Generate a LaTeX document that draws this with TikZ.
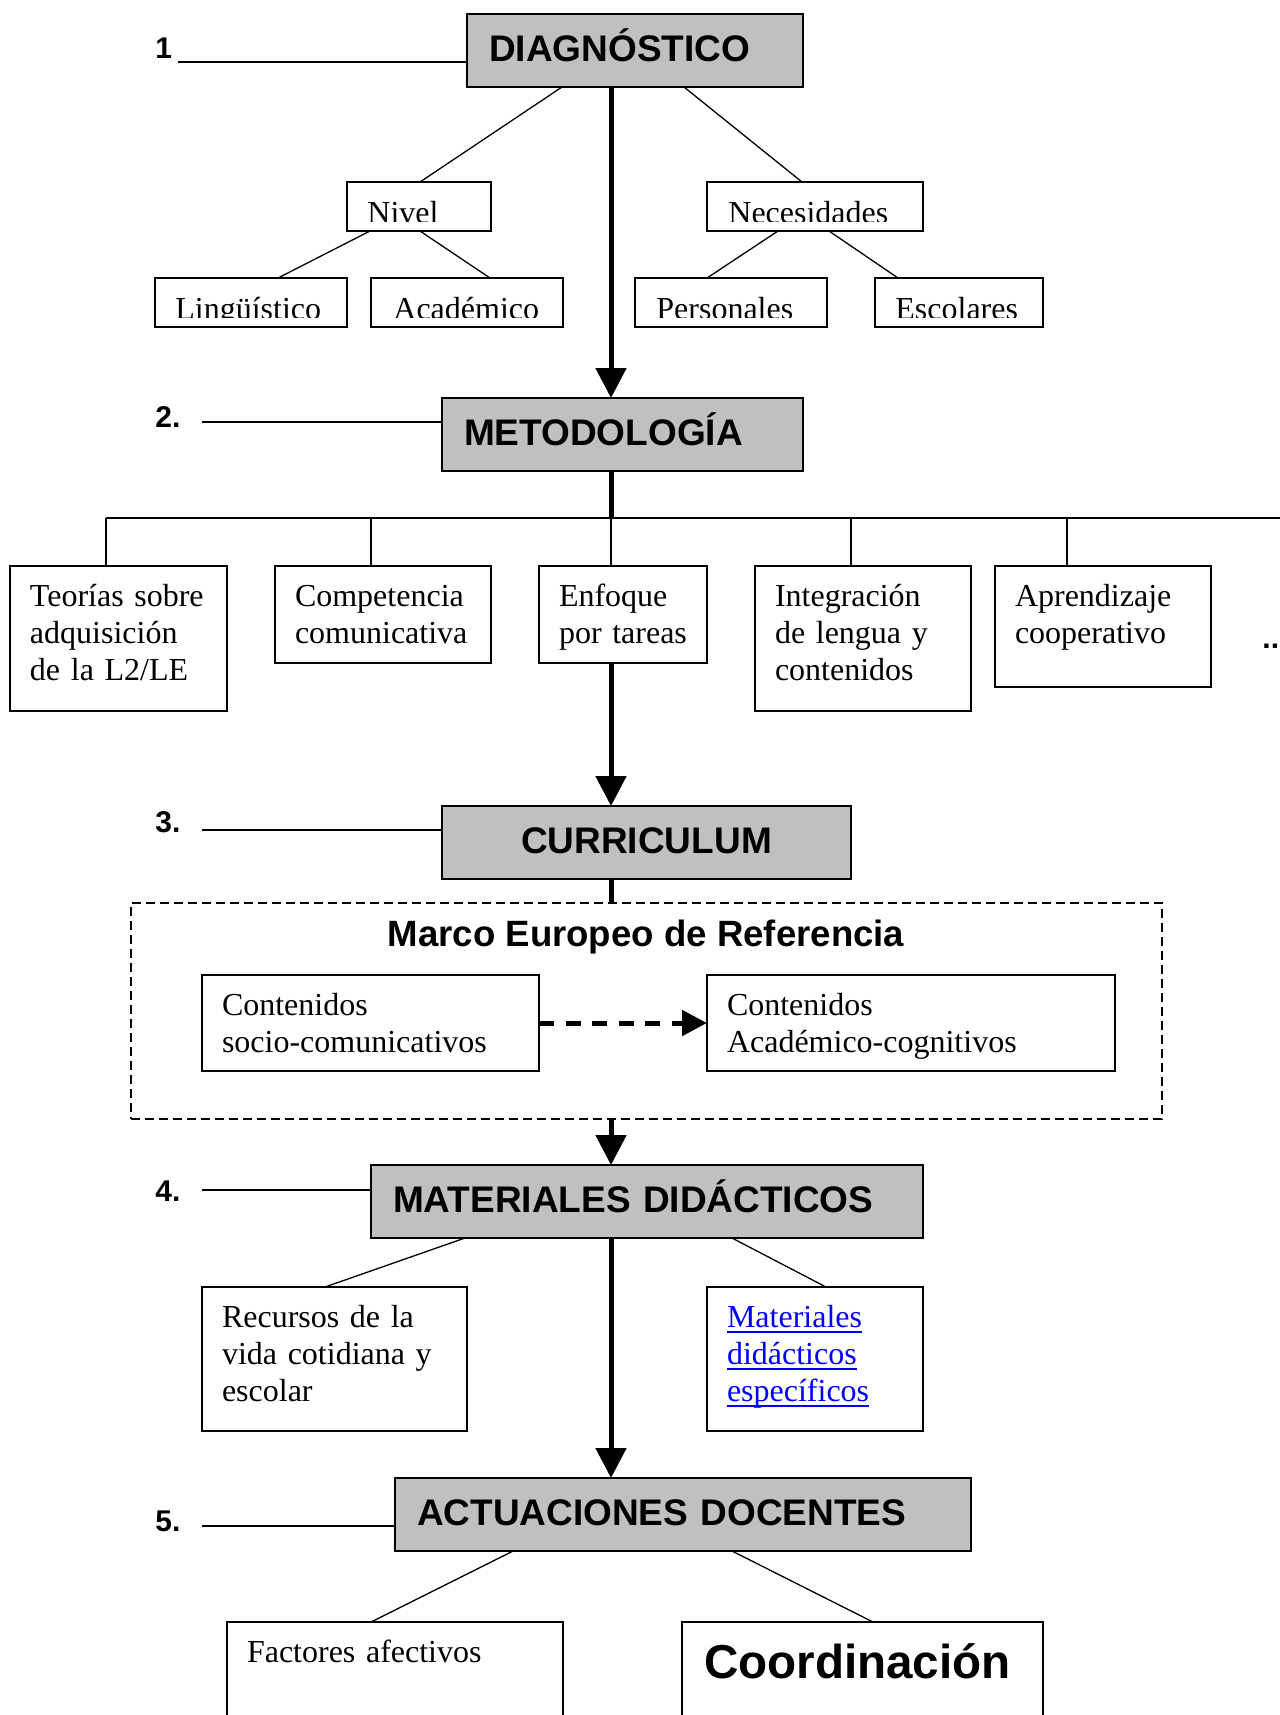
\documentclass[tikz,border=0pt]{standalone}
\usepackage{fontspec}
\setmainfont{Liberation Serif}
\newfontfamily\arialfont{Liberation Sans}
\usetikzlibrary{arrows.meta, calc}
\definecolor{boxgray}{RGB}{192,192,192}
\definecolor{linkblue}{RGB}{0,0,255}
\newsavebox{\enlacebox}
\newcommand{\enlace}[1]{\leavevmode\sbox\enlacebox{#1}\rlap{\rule[-2.75pt]{\wd\enlacebox}{1pt}}\usebox\enlacebox}

\begin{document}
\begin{tikzpicture}[
    x=0.5pt, y=-0.5pt,
    % 节点样式
    headbox/.style={draw, line width=0.8pt, fill=boxgray, anchor=base west, align=left,
        inner xsep=11pt, inner ysep=0pt, outer sep=0pt, text height=23.5pt, text depth=13pt,
        font=\arialfont\bfseries\fontsize{18.5pt}{21pt}\selectfont},
    txtbox/.style={draw, line width=0.8pt, anchor=base west, align=left,
        inner xsep=10pt, inner ysep=0pt, outer sep=0pt, text height=20pt,
        font=\fontsize{16pt}{18.5pt}\selectfont},
    smallbox/.style={draw, line width=0.8pt, anchor=north west, inner sep=0pt, outer sep=0pt, minimum height=24.5pt},
    smalltext/.style={anchor=base west, inner sep=0pt, font=\fontsize{16pt}{18.5pt}\selectfont},
    numlabel/.style={anchor=base west, inner sep=0pt, font=\arialfont\bfseries\fontsize{15pt}{18pt}\selectfont},
    dashframe/.style={draw, line width=0.65pt, dash pattern=on 4.5pt off 2.5pt, anchor=north west,
        inner sep=0pt, outer sep=0pt},
    % 连线样式
    thinline/.style={line width=0.65pt},
    bigline/.style={line width=2.5pt},
    bigarrow/.style={line width=2.5pt, -{Triangle[length=15pt, width=15pt]}},
    dasharrow/.style={line width=2.5pt, dash pattern=on 7.5pt off 5.8pt, -{Triangle[length=12.5pt, width=12.5pt]}}
]
    \path[use as bounding box, fill=white] (0,0) rectangle (1280,1715);
    \coordinate (spine) at (611,0);

    % 1. 诊断
    \node[headbox, text width=146pt] (diag) at (467,61) {DIAGNÓSTICO};
    \node[numlabel] (n1) at (155,58) {1};
    \coordinate (l1) at (178,62);
    \draw[thinline] (l1) -- (diag.west |- l1);

    \node[smallbox, minimum width=72pt] (nivel) at (347,182) {};
    \node[smallbox, minimum width=108pt] (neces) at (707,182) {};
    \node[smallbox, minimum width=96pt] (ling) at (155,278) {};
    \node[smallbox, minimum width=96pt] (acad) at (371,278) {};
    \node[smallbox, minimum width=96pt] (pers) at (635,278) {};
    \node[smallbox, minimum width=84pt] (esc) at (875,278) {};

    % 文字被框底裁掉
    \begin{scope}
        \clip (nivel.north west) rectangle ([yshift=5pt]nivel.south east)
              (neces.north west) rectangle ([yshift=5pt]neces.south east)
              (ling.north west) rectangle ([yshift=5pt]ling.south east)
              (acad.north west) rectangle ([yshift=5pt]acad.south east)
              (pers.north west) rectangle ([yshift=5pt]pers.south east)
              (esc.north west) rectangle ([yshift=5pt]esc.south east);
        \node[smalltext] (nivelT) at ([shift={(20,41)}]nivel.north west) {Nivel};
        \node[smalltext] (necesT) at ([shift={(21,41)}]neces.north west) {Necesidades};
        \node[smalltext] (lingT) at ([shift={(20,41)}]ling.north west) {Lingüístico};
        \node[smalltext] (acadT) at ([shift={(22,41)}]acad.north west) {Académico};
        \node[smalltext] (persT) at ([shift={(21,41)}]pers.north west) {Personales};
        \node[smalltext] (escT) at ([shift={(20,41)}]esc.north west) {Escolares};
    \end{scope}

    \draw[thinline] (diag.south -| 562,0) -- (nivel.north -| 420,0);
    \draw[thinline] (diag.south -| 684,0) -- (neces.north -| 802,0);
    \draw[thinline] (nivel.south -| 370,0) -- (ling.north -| 278,0);
    \draw[thinline] (nivel.south -| 420,0) -- (acad.north -| 490,0);
    \draw[thinline] (neces.south -| 778,0) -- (pers.north -| 707,0);
    \draw[thinline] (neces.south -| 829,0) -- (esc.north -| 898,0);

    % 2. 方法
    \node[headbox, text width=158.5pt] (metodo) at (442,445) {METODOLOGÍA};
    \node[numlabel] (n2) at (155,427) {2.};
    \coordinate (l2) at (202,422);
    \draw[thinline] (l2) -- (metodo.west |- l2);
    \draw[bigarrow] (diag.south -| spine) -- (metodo.north -| spine);

    \coordinate (barL) at (106,518);
    \coordinate (barR) at (1290,518);
    \draw[bigline] (metodo.south -| spine) -- (barL -| spine);
    \draw[thinline] (barL) -- (barR);

    \node[txtbox, text width=88.5pt, text depth=52.5pt] (teorias) at (10,606) {Teorías sobre\\ adquisición\\ de la L2/LE};
    \node[txtbox, text width=88pt, text depth=28.5pt] (compet) at (275,606) {Competencia\\ comunicativa};
    \node[txtbox, text width=64pt, text depth=28.5pt] (enfoque) at (539,606) {Enfoque\\ por tareas};
    \node[txtbox, text width=88pt, text depth=52.5pt] (integra) at (755,606) {Integración\\ de lengua y\\ contenidos};
    \node[txtbox, text width=88pt, text depth=40.5pt] (aprend) at (995,606) {Aprendizaje\\ cooperativo};
    \node[numlabel] (dots) at (1262,648) {...};

    \foreach \nodo/\xx in {teorias/106, compet/371, enfoque/611, integra/851, aprend/1067}
        \draw[thinline] (barL -| \xx,0) -- (\nodo.north -| \xx,0);

    % 3. 课程
    \node[headbox, align=center, text width=182.5pt] (curric) at (442,853) {CURRICULUM};
    \node[numlabel] (n3) at (155,832) {3.};
    \coordinate (l3) at (202,830);
    \draw[thinline] (l3) -- (curric.west |- l3);
    \draw[bigarrow] (enfoque.south -| spine) -- (curric.north -| spine);

    \node[dashframe, minimum width=515.5pt, minimum height=108pt] (marcobox) at (131,903) {};
    \node[anchor=base, inner sep=0pt, font=\arialfont\bfseries\fontsize{18.3pt}{21pt}\selectfont] (marco) at (646,946) {Marco Europeo de Referencia};
    \draw[bigline] (curric.south -| spine) -- (marcobox.north -| spine);

    \node[txtbox, text width=148.5pt, text depth=28pt] (socio) at (202,1015) {Contenidos\\ socio-comunicativos};
    \node[txtbox, text width=184pt, text depth=28pt] (acadcog) at (707,1015) {Contenidos\\ Académico-cognitivos};
    \draw[dasharrow] (socio.east) -- (acadcog.west);

    % 4. 教材
    \node[headbox, text width=254pt] (mater) at (371,1212) {MATERIALES DIDÁCTICOS};
    \node[numlabel] (n4) at (155,1201) {4.};
    \coordinate (l4) at (202,1190);
    \draw[thinline] (l4) -- (mater.west |- l4);
    \draw[bigarrow] (marcobox.south -| spine) -- (mater.north -| spine);

    \node[txtbox, text width=112.5pt, text depth=52pt] (recursos) at (202,1327) {Recursos de la\\ vida cotidiana y\\ escolar};
    \node[txtbox, text width=88pt, text depth=52pt, text=linkblue] (matlink) at (707,1327) {\enlace{Materiales}\\ \enlace{didácticos}\\ \enlace{específicos}};
    \draw[thinline] (mater.south -| 465,0) -- (recursos.north -| 325,0);
    \draw[thinline] (mater.south -| 732,0) -- (matlink.north -| 826,0);

    % 5. 教学行动
    \node[headbox, text width=266pt] (actua) at (395,1525) {ACTUACIONES DOCENTES};
    \node[numlabel] (n5) at (155,1531) {5.};
    \coordinate (l5) at (202,1526);
    \draw[thinline] (l5) -- (actua.west |- l5);
    \draw[bigarrow] (mater.south -| spine) -- (actua.north -| spine);

    \node[txtbox, text width=148pt, text depth=49pt] (factores) at (227,1662) {Factores afectivos};
    \node[txtbox, inner xsep=11pt, text width=158.5pt, text height=28pt, text depth=41pt,
        font=\arialfont\bfseries\fontsize{23.8pt}{28pt}\selectfont] (coord) at (682,1678) {Coordinación};
    \draw[thinline] (actua.south -| 513,0) -- (factores.north -| 371,0);
    \draw[thinline] (actua.south -| 732,0) -- (coord.north -| 873,0);
\end{tikzpicture}
\end{document}
